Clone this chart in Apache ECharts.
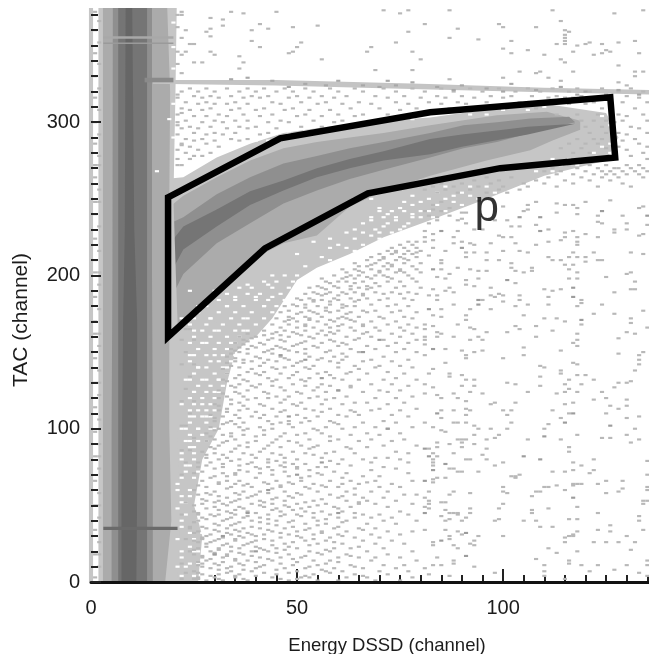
<!DOCTYPE html>
<html><head><meta charset="utf-8">
<style>html,body{margin:0;padding:0;background:#fff}#c{width:649px;height:654px;filter:blur(0.35px)}</style>
<script src="https://cdn.jsdelivr.net/npm/echarts@6/dist/echarts.min.js"></script>
</head><body><div id="c"></div>
<script>
const xTitle = "Energy DSSD (channel)";
const yTitle = "TAC (channel)";
const peakLabel = "p";
const xMax = 135.4, yMax = 374.5;
const xTickValues = [0,50,100];
const yTickValues = [0,100,200,300];

// gate outline [energy, tac]
const gate = [[18.7,251],[45.9,289.5],[82.3,306.5],[126,316.3],[127.2,277],[99.3,270],[67.2,253.6],[42.2,217.6],[18.7,160]];

// vertical band, rows of [tac, xLeft, xRight]
const bandStipple = [[0,1.8,21],[40,1.8,21.5],[100,1.8,21],[170,1.8,21],[200,1.8,20.6],[250,1.8,20],[320,1.8,20.5],[374.5,1.8,20.8]];
const bandLight = [[0,2.9,18],[40,2.9,19.5],[100,2.9,19],[170,2.9,19],[200,2.9,18],[250,2.9,19],[320,2.9,19.2],[374.5,2.9,18.5]];
const bandMid = [[0,5,15],[100,5,15],[200,5.2,14.8],[374.5,5.3,14.8]];
const bandDark = [[0,6.6,13.6],[374.5,6.6,13.6]];
const bandCore = [[0,7.4,11],[60,7.4,11.2],[170,7.8,11.2],[230,8.2,10.5],[374.5,8.4,10]];
const strip = [[0,-0.5,0.5],[374.5,-0.5,0.5]];

// proton locus contours [energy, tac]
const locusStipple = [[14,262],[22.4,264],[30.5,277],[38.6,286],[46.7,293],[54.8,296],[62.8,299],[71,301],[82.3,303],[98,309],[110,312],[125,306],[128,290],[125,275],[110,265],[96,250],[82.3,236],[71,225],[62.8,214],[54.8,205],[50,197],[44,172],[40,160],[30,150],[14,150]];
const locusLight = [[14,232],[19.2,245],[22.4,252],[30.5,264],[38.6,275],[46.7,283],[54.8,287],[62.8,290],[71,293],[82.3,298],[98.5,304.6],[110.6,306.8],[118.7,301],[118.7,295],[112,288],[106.6,281.7],[96,275],[82.3,265],[71,255],[62.8,245],[54.8,226],[46.7,221],[38.6,210],[30.5,192],[19.2,162],[14,150]];
const locusMid = [[14,220],[19.2,234],[22.4,238],[30.5,253],[38.6,264],[46.7,273],[54.8,278],[62.8,283],[71,287],[82.3,293],[90.4,298],[98.5,300],[106.6,302.4],[116,303.5],[117.5,300],[106.6,293],[98.5,287],[90.4,283],[82.3,277],[71,269],[62.8,263],[54.8,255.5],[46.7,247],[38.6,234],[30.5,221],[22.4,201],[19.2,184],[14,165]];
const locusCore = [[14,205],[19.2,221],[22.4,232],[30.5,243],[38.6,255],[46.7,262],[54.8,270],[62.8,276],[71,281],[82.3,289],[90,292],[100,295],[106,297],[117.5,299],[106,292],[100,289],[90,284],[82.3,279],[71,275],[62.8,270],[54.8,264],[46.7,255.5],[38.6,246],[30.5,232],[22.4,217],[19.2,201],[14,180]];
const fringeLow = [[20,0],[26,0],[27,30],[25,50],[27,80],[31,100],[33,130],[35,150],[40,162],[30,170],[20,170]];
const streak = [[15,327.5],[45,327.5],[80,325],[110,322.5],[135.4,321],[135.4,318],[110,319.5],[80,321.5],[45,324],[15,325]];
const streakDarkLow = [[3,36],[21,36],[21,34],[3,34]];
const streakPaleA = [[3,356],[20,356],[20,354.5],[3,354.5]];
const streakPaleB = [[3,352],[20,352],[20,351],[3,351]];
const streakDarkHigh = [[13,329],[20,329],[20,326],[13,326]];

// single-count cells, rows of [tac, energy, energy...]
const noiseLow = [
[78,29,39,43,47,68,77],[77,32,38,49,52,60],[75,26,32,40,43,47,50,55,57,71],[73,36,44,53,68],[71,25,32,35,41,55,62,77],[69,30,33,48,53,66,70],
[66,27,33,36,45,51,58,63,69,78],[64,31,35,38,43,49,54,61,65,73],[62,28,34,39,46,52,57,60,70,75],[59,30,37,41,47,55,62,68,72],[57,26,29,36,40,51,58,64,76,79],[55,33,38,45,49,60,66,71],
[53,28,31,35,41,47,54,62,67,74],[51,27,32,39,44,50,57,65,69,78],[49,30,36,42,48,53,59,63,72],[46,25,33,38,46,52,56,61,75],[44,29,31,35,43,47,50,58,66,70,77],[42,27,34,37,41,54,60,64,68,73],
[40,26,32,39,45,49,55,62,71,79],[38,30,35,43,52,57,67,74],[35,24,28,33,37,41,47,53,59,65,69],[33,26,31,36,44,50,56,62,72,78],[31,29,34,39,42,48,54,60,68,75],[29,27,32,37,46,51,58,64,70],
[27,25,30,35,40,44,52,57,66,73],[25,28,33,38,47,55,61,69,76],[22,26,31,36,41,45,50,59,63,71],[20,29,34,39,43,53,58,67,78],[18,25,30,33,37,48,56,62,72],[16,27,32,41,46,51,60,65,69,75],
[14,28,35,38,44,54,58,68,79],[11,26,31,37,42,49,55,63,71,76],[9,29,33,40,47,52,59,66,74],[7,25,34,39,50,57,61,70,77],[5,27,31,36,45,54,64,72],[3,26,30,35,44,51,53,62,67,78],[1,28,32,38,48,55,60,69,75]];
const noiseLowExtra = [
[79,34,45,58],[76,28,36,46,63],[74,30,41,50,74],[72,27,38,47,59],[70,35,44,56],[68,29,40,51,61],[65,31,42,48,67],[63,26,37,46,56],[61,33,44,53,64],[58,28,35,43,50],[56,31,39,48,61],[54,27,36,44,56],[52,30,34,42,52,65],[50,25,33,41,47,55],[48,28,37,45,51,60],[47,31,35,44,49],[45,26,34,40,54,64],[43,30,38,46,51],[41,28,33,43,57],[39,25,36,41,48,61],[37,31,34,45,55],[36,27,39,49,60],[34,30,35,43,52,66],[32,25,33,38,46,56],[30,28,36,40,50,61],[28,31,35,42,54],[26,26,29,39,49,59],[24,32,37,44,53],[23,28,34,40,48,65],[21,25,31,42,47,57],[19,30,36,45,55],[17,27,33,39,52,63],[15,29,35,43,49],[13,26,32,40,50,60],[12,30,36,46,57],[10,27,34,41,53,64],[8,31,37,45,56],[6,26,33,42,48,58],[4,29,35,40,52,66],[2,25,31,37,46,50]];
const noiseMid = [
[164,42,47,52,56,60,64,70,76],[162,38,44,50,55,59,66,73,78],[160,36,40,48,53,62,68,75],[158,37,43,46,58,64,71,79],[156,35,41,51,56,61,74,77],[154,39,45,49,54,60,67,72],[152,34,38,44,47,52,63,69,76],[150,36,42,50,57,65,74,79],
[147,33,40,46,53,59,62,71],[145,37,43,48,55,61,68,77],[144,35,39,45,51,58,66,73],[141,34,41,49,54,64,70,75],[140,36,44,47,52,60,69,78],[137,38,42,50,57,63,72],[136,33,40,46,55,62,67,76],[133,35,43,48,53,59,74],
[132,32,37,45,51,61,65,71,79],[129,36,41,49,56,68,73],[128,34,39,44,52,58,63,77],[125,31,38,47,54,60,70,75],[124,35,42,50,57,66,72],[121,33,37,45,48,55,62,78],[120,31,40,43,53,59,69,74],[117,36,46,51,64,67,76],
[116,30,34,41,49,56,61,72],[113,33,38,44,52,58,70,79],[112,31,36,47,54,63,68,75],[109,29,35,42,50,60,65,73],[108,32,39,45,55,62,77],[105,30,34,43,48,53,58,71],[104,33,37,46,51,59,66,74],[101,29,36,41,49,57,64,69,78],
[100,31,38,44,54,61,72],[97,28,34,47,52,56,67,75],[96,32,37,42,50,63,70],[93,30,35,45,53,60,68,76],[92,28,33,40,48,58,65,73],[89,31,36,43,51,55,71,79],[88,29,38,46,54,62,67],[85,27,34,41,49,59,74],[84,30,37,44,52,57,64,77],[81,28,33,40,47,56,69,72],[80,31,36,43,50,61,66,75]];
const noiseMidExtra = [
[163,45,49,58,67],[161,42,46,51,57],[159,39,44,54,65],[157,38,47,52,59],[155,37,42,50,62],[153,36,40,46,55],[151,35,43,48,58],[149,34,38,44,52,61],[146,35,41,47,56],[143,33,37,42,50,60],[139,32,39,45,53,65],[135,36,41,49,58],[131,33,38,44,52],[127,35,40,46,55,63],[123,32,36,43,51],[119,34,38,47,57],[115,31,37,42,50],[111,33,40,46,56,64],[107,30,36,41,52],[103,32,35,44,48,60],[99,30,37,42,55],[95,29,34,40,46,58],[91,32,38,44,50],[87,30,35,42,53,63],[83,28,32,39,46,54]];
const noiseBelowLocus = [
[166,46,50,54,58,63,69,75,79],[167,52,60,66],[168,44,48,52,57,61,66,72,77],[170,47,50,55,59,64,68,74],[171,48,53,58,63],[172,45,49,53,60,62,71,78],[173,48,52,56,61,65,70,76],[175,50,55,62],[176,46,51,54,58,63,67,73,79],[177,48,53,57,60,66,69,75],[179,52,57,61],[180,47,50,55,62,64,72,77],[181,49,52,58,61,68,74],[183,54,58,64],[184,51,54,56,60,65,70,78],[185,50,53,59,63,67,72,76],[187,56,60,66],[188,52,55,57,62,66,71,75,79],[189,54,58,61,64,69,73,77],[191,57,63,67],[192,53,56,60,65,68,74,80],[193,55,59,63,67,70,76],[195,58,64,69],[196,57,60,62,66,72,75,79],[198,56,61,64,68,73,78],[199,62,67,72],[200,59,63,65,69,71,77],[202,62,66,70,74,76,80],[203,65,70,75],[204,61,64,68,72,75,79],[206,65,67,71,73,78],[207,68,73],[208,64,69,72,76,80],[210,67,70,74,77],[211,71,76],[212,68,71,75,79],[214,70,73,76,78],[215,74,79],[216,72,74,77,80],[218,73,76,79],[220,75,78],[222,77,79]];
const noiseRightLow = [
[124,92,106,115,118,124],[123,81,88,95,113],[122,84],[120,85,89,125],[119,122,130],[118,91],[117,98,103,117],[116,97,115],[115,126,130],[113,91,128],[112,85,88,92,100,102,112],[110,125,116],[109,91,101],[108,133],[107,85,114,130],[104,81,88,89,91,102],[103,111],[102,93],[101,83],[100,94,97,101,110,132],[99,85],[98,86],[96,93,99,118,130],[94,98,124,126],[93,89,90,91,96,106,114,133],[91,84,90,131],[90,87,93],[88,84,90,116],[87,82,96],[85,116],[84,83,88],[83,95],[82,84],[80,83,91,92,96,122],[79,135],[78,83,100,117],[76,83,98,119],[74,87,88],[73,117,122],[72,89,90,94,112,115],[71,121],[70,104,135],[69,102,103],[68,84,86,103],[67,83],[66,125,129],[65,83],[64,117,118,119,123],[63,113,117],[62,100,110,111,135],[61,129],[60,115,135],[59,82,88,100,108,109,128],[58,92,101,125],[57,87],[56,107],[55,81],[53,82,134,135],[52,85,86],[51,100,82,134],[49,118,81],[48,82,92,99,111],[47,86,107],[45,87,88,89,92,107,123],[44,89],[43,85,133],[42,91],[41,87,116,118,99],[40,86,90,98,105,108,133],[37,126],[36,109,112],[34,81,86,123,134],[33,89,118,126],[31,90,117],[30,94,100,87,116,117,130],[29,115],[28,87],[27,93],[26,83,115,122,125,128,132],[25,92],[24,83,93,88],[22,89,111],[21,131],[20,118],[19,113],[16,84],[15,108],[14,88,116,135],[12,88,116],[11,83,85,110,119,123,130,135],[10,93],[9,81],[8,127],[7,110,121],[6,98,133],[5,82],[4,87,110,135],[2,115]];
const noiseRightMid = [
[249,126],[248,85,108,120],[247,113],[246,83,106,115,117],[245,100,134],[244,87,118,133],[243,83,106],[242,81,85,105],[241,90,91,113],[240,118],[239,82,87,123,129],[238,84],[237,90],[236,84,89,98,101],[235,123],[234,82,91,124,130],[233,108,135],[232,102,104],[230,93,95,111,127,130],[229,81,89,117],[228,115,127],[227,83,120,134],[226,99,133],[225,81,88,100,102,115,118,123],[223,83,114],[222,81,90,111,118],[221,88,92,97,103],[220,93,108,118],[218,83],[216,86,100,104],[215,91,93,96,106,117,122,131],[214,134],[213,82],[212,91,111,116,118,120],[210,85,96,99,112,114,123,124],[209,120],[208,85,102],[207,115,117],[205,89,102,107],[204,85,92,116],[203,94,96,103,107],[202,105,118,131],[201,87,130],[199,84,125],[198,86,94,116,118],[197,91],[196,132],[195,103],[194,91],[193,93],[192,87,97],[191,83,110,114,131,132],[190,86,112],[189,88,127],[188,99],[187,82,84,97,100,104],[186,98,111],[184,84,95,104,119],[183,100],[182,119],[181,88,106,111,124],[180,103,118],[178,85,92,97],[177,134],[175,122,127],[174,83,91,105],[173,85],[172,110,113,131],[171,91],[170,115],[169,131],[168,81,89,119],[167,83,103,108],[166,92,135],[165,81,93,104],[164,112],[163,84,96,101,130],[162,85,118,132],[160,81,84,88,94,108],[159,128],[158,81,92,95,118],[156,117],[155,81],[154,118],[153,105],[152,86],[151,90,95,114],[150,93,134],[149,128],[148,81,91,105,133],[146,91,100],[145,133],[143,86,117],[142,118,133],[141,109],[140,110],[139,83],[138,114,132],[136,82,87,114],[135,90,118,120],[134,87,109],[132,91,93,116,122],[131,131],[130,101,128,130],[129,81,103,115,119],[128,90,93,109],[127,83,127],[126,116]];
const noiseAbove = [
[373,71,77,87,112,134],[372,45,22,34],[371,37,75,127],[368,29],[367,32],[366,114],[364,41,81,99],[363,32,55],[362,49,100,108],[361,29,43,89],[360,23,39,115],[359,28,77,116],[357,115],[356,29],[355,87,115],[354,94],[353,39,102,115,132],[352,51,74,121,128],[351,24,25,113,115,120,124],[350,118],[349,41,50,68],[348,100],[347,106,125],[346,29,49,67,78,117,126],[345,48,102,124,133],[344,22,30,110,122],[343,36],[341,56,80,114],[339,25,27,37,115],[337,128],[335,36],[334,69,78],[333,104,109,117,132,134],[332,108],[330,132],[329,100,111],[328,87],[327,114],[326,128],[324,130]];
const noiseAboveLocus = [
[322,24,28,33,38,42,47,52,58,64,71,78,85,92,99,106,112,118,124,131],[320,22,26,30,36,40,45,49,54,60,66,74,81,88,95,103,109,116,121,128,134],[317,25,29,34,39,43,50,56,62,69,76,84,90,97,102,107,113,119,130],[316,21,27,31,37,41,48,53,59,72,80,86,93,100,111,115,117,125,133],[313,23,28,35,44,51,57,65,74,82,89,96,104,122,129,135],[312,26,30,33,38,46,55,61,68,77,85,91,112,116,120],[309,22,29,36,42,49,63,70,79,87,94,101,108,124,132],[308,24,27,34,40,47,53,58,75],[305,21,31,37,44,52,60,66,72,113,118,123,128,134],[304,25,28,33,41,50,56,64,130],[301,23,30,35,38,46,54,61,119,122,125,129,135],[300,21,27,32,43,48,59,66,127],[297,24,29,36,40,51,56,120,124,131],[296,22,26,33,38,45,133],[293,25,30,35,43,121,125,128,135],[292,21,28,32,41,130],[289,23,27,34,38,118,122,124,132],[288,25,30,36,129],[286,22,28,116,120,123,133],[284,24,31,128,135],[283,114,119,125],[282,21,26,130],[280,23,29,117,121,134],[278,25,27,131],[276,21,24,135]];
const noiseRightStreak = [
[272,109,116,121,125,130,133],[270,112,118,123,127,128,131,134],[268,110,114,120,124,126,129,132,135],[266,113,117,122,125,127,130,133],[264,84,90,96,102,111,119,124,128,134],[262,82,87,93,99,108,115,121,126],[260,85,90,97,105,110,117,129],[258,83,88,94,100,106,113,123,131],[256,81,86,92,99,104],[254,84,89,96,101]];
const noiseLeft = [
[372,1],[366,2],[360,1],[352,2],[345,1],[338,2],[330,1],[322,2],[316,1],[308,2],[300,1],[292,2],[286,1],[278,2],[272,1,2],[264,1],[256,2],[248,1,2],[240,1],[232,2],[224,1],[216,2],[210,1],[202,1,2],[194,2],[186,1],[178,2],[170,1],[162,1,2],[154,2],[146,1],[138,2],[130,1,2],[122,2],[114,1],[106,2],[98,1],[90,2],[82,1,2],[74,2],[66,1],[58,2],[50,1,2],[42,2],[34,1],[26,2],[18,1,2],[10,2],[3,1]];
const noiseBandEdge = [
[370,21,22],[362,21],[355,22],[346,21,23],[338,21],[332,22],[318,21],[306,22],[298,21],[285,22],[272,21,22],[165,23,24],[158,22,25],[150,23],[142,22,25],[134,24],[126,23],[118,22,25],[110,24],[102,22,23],[94,25],[86,22,24],[78,23,26],[70,22],[60,25],[52,23],[44,22,26],[36,24],[28,23,27],[20,24],[12,22,27],[6,23],[2,22,26]];
const noiseDoubles = [[84,110],[117,110],[115,104],[126,102],[110,95],[81,87],[82,82],[105,82],[109,80],[86,77],[91,32],[85,27],[91,17],[83,73],[81,66],[117,55],[81,45],[124,242],[135,239],[104,238],[109,238],[85,229],[109,229],[90,218],[83,204],[101,197],[117,192],[94,184],[117,186],[94,181],[82,178],[119,171],[83,152],[56,78],[48,108],[56,133],[52,145],[46,148],[60,45],[40,20],[32,30],[66,150],[70,158],[60,125],[72,100],[43,60],[38,45],[30,18],[50,70]];
const streakCells = [[70,323],[72,327],[34,328],[38,329],[44,327],[52,325],[60,327],[66,324],[78,326],[84,323],[90,324],[96,322],[102,325],[108,321],[114,323],[120,320],[128,321],[133,318],[48,323],[57,324],[74,324],[88,321],[100,320],[118,318],[125,318]];

// white gaps inside the dense shaded zones, rows of [tac, energy...]
const gapsBand = [
[4,22,25],[10,21,23],[16,22],[23,24],[28,21,25],[36,22],[44,23],[48,21],[56,22,24],[64,21],[72,23,26],[84,22,25],[92,24,28],[100,22,26,30],[108,24,28],[116,22,27],[124,25,30],[132,23,28,31],[140,26,33],[148,24,30],[156,28,34],[164,25,31,37],[172,22,29,38],[180,26,33,42],[186,35,40,44],[190,24,30],[194,38,43],
[365,20],[349,20],[335,20],[312,20],[302,19],[290,20]];
const gapsLower = [
[200,44,47,50],[196,42,45,49],[192,36,39,44,48],[188,33,38,41,46],[184,31,35,40,43,47],[180,28,33,37,42,45],[176,26,31,35,39,44],[172,25,29,34,37,42],[168,24,28,32,36,40],[164,27,30,35,38],[160,25,29,33,36],[156,24,27,31,35],[152,26,30,33],[148,25,28,32,35],[144,24,29,31,34],[140,26,28,32],[136,25,30,33],[132,24,27,31],[128,26,29,32],[124,25,28,31],[120,24,27,30],[116,25,29],[112,24,26,28,30],[108,25,27,29],[104,24,28],[100,23,26,29],[96,24,27],[92,23,26],[88,24,25],[80,22,25],[76,23,24],[68,22,25],[60,21,24],[52,22,23],[40,22,26],[32,24,27],[20,22,25,26],[12,24,26]];
const gapsLocus = [
[258,86,92,96],[254,84,90,98],[252,78,88,92],[250,64,68,82,86,94],[248,76,80,88],[246,78,84,90],[244,70,75],[242,70,73,76,80,82,86],[240,72,78],[238,68,71,74,78,80,83],[236,68,74],[234,66,72,77],[232,71,76],[230,64,69,75],[228,62,66,70,73],[226,68],[224,58,64,70],[220,60,66],[218,58,62],[216,64],[212,56],[210,58],[206,52],[214,50],[222,54],
[268,16,108,112],[272,22,26,114,118,122],[276,24,28,112,116,120,124],[280,26,31,122,126],[284,30,34,124],[286,126,128],[288,36,40,43],[292,44,48,127,128],[294,48,52,56],[298,58,62,66,126],[300,64,68],[302,72,78],[304,124],[305,84,92,96],[308,100,106],[310,104,110]];

const levels = {stipple:"#c6c6c6",light:"#ababab",mid:"#8f8f8f",dark:"#757575",core:"#666666",streak:"#c4c4c4"};

const rowsToPoints = rows => rows.flatMap(r => r.slice(1).map(x => [x, r[0]]));
const bandToPoly = b => b.map(r => [r[2], r[0]]).concat(b.slice().reverse().map(r => [r[1], r[0]]));

const polyLayers = [
  [locusStipple, levels.stipple],[fringeLow, levels.stipple],[locusLight, levels.light],[locusMid, levels.mid],[locusCore, levels.dark],
  [bandToPoly(strip), levels.stipple],[bandToPoly(bandStipple), levels.stipple],[bandToPoly(bandLight), levels.light],[bandToPoly(bandMid), levels.mid],[bandToPoly(bandDark), levels.dark],[bandToPoly(bandCore), levels.core],
  [streak, levels.streak],[streakDarkLow, "#6a6a6a"],[streakPaleA, "#a8a8a8"],[streakPaleB, "#9a9a9a"],[streakDarkHigh, "#8a8a8a"]
];
const singles = [noiseLow,noiseLowExtra,noiseMid,noiseMidExtra,noiseBelowLocus,noiseRightLow,noiseRightMid,noiseAbove,noiseAboveLocus,noiseRightStreak,noiseLeft,noiseBandEdge].flatMap(rowsToPoints);
const whites = [gapsBand,gapsLower,gapsLocus].flatMap(rowsToPoints);

const cellItem = (fill) => (params, api) => {
  const x = api.value(0), y = api.value(1);
  const a = api.coord([x - 0.5, y + 0.7]), b = api.coord([x + 0.5, y - 0.7]);
  return {type:"rect", shape:{x:a[0], y:a[1], width:b[0]-a[0], height:b[1]-a[1]}, style:{fill}};
};
const cellSeries = (data, fill) => ({type:"custom", coordinateSystem:"cartesian2d", data, encode:{x:0,y:1}, renderItem:cellItem(fill), silent:true, animation:false, progressive:0, z:2});

const chart = echarts.init(document.getElementById("c"), null, {renderer:"canvas"});
const font = {fontFamily:"Liberation Sans", fontSize:20, color:"#1c1c1c"};
chart.setOption({
  animation:false,
  backgroundColor:"#fff",
  grid:{left:91, right:0, top:8, bottom:72, containLabel:false, outerBoundsMode:"none"},
  xAxis:[
    {type:"value", min:0, max:xMax, interval:50, z:1, position:"bottom", splitLine:{show:false},
     name:xTitle, nameLocation:"middle", nameGap:54, nameTextStyle:{...font, fontSize:18.5, padding:[0,0,0,34]},
     axisLine:{show:false}, axisTick:{inside:true, length:13, customValues:xTickValues, lineStyle:{color:"#222", width:2}},
     minorTick:{show:true, splitNumber:10, length:7, lineStyle:{color:"#222", width:2}},
     axisLabel:{...font, margin:16, showMaxLabel:false}},
    {type:"value", min:0, max:xMax, interval:50, z:6, position:"bottom", splitLine:{show:false},
     axisLine:{show:true, onZero:false, lineStyle:{color:"#111", width:3}}, axisTick:{show:false}, axisLabel:{show:false}}
  ],
  yAxis:{type:"value", min:0, max:yMax, interval:100, z:6, splitLine:{show:false},
     name:yTitle, nameLocation:"middle", nameGap:59, nameRotate:90, nameTextStyle:{...font, fontSize:21, padding:[0,50,0,0]},
     axisLine:{show:false}, axisTick:{inside:true, length:10, customValues:yTickValues, lineStyle:{color:"#222", width:2}},
     minorTick:{show:true, splitNumber:10, length:7, lineStyle:{color:"#222", width:2}},
     axisLabel:{...font, margin:11, showMaxLabel:false}},
  series:[
    {type:"custom", coordinateSystem:"cartesian2d", data:polyLayers.map((_,i)=>[i,0]), encode:{x:0,y:1}, silent:true, animation:false, progressive:0, z:2,
     renderItem:(params, api) => {
       const layer = polyLayers[params.dataIndex];
       return {type:"polygon", shape:{points:layer[0].map(p => api.coord(p))}, style:{fill:layer[1]}};
     }},
    cellSeries(whites, "#ffffff"),
    cellSeries(singles, "#b8b8b8"),
    cellSeries(streakCells, "#a8a8a8"),
    cellSeries(noiseDoubles, "#9c9c9c"),
    {type:"custom", coordinateSystem:"cartesian2d", data:[[0,0]], encode:{x:0,y:1}, silent:true, animation:false, z:3,
     renderItem:(params, api) => ({type:"polygon", shape:{points:gate.map(p => api.coord(p))}, style:{fill:"none", stroke:"#000", lineWidth:6.5, lineJoin:"miter"}})},
    {type:"scatter", symbolSize:0, data:[[96,243.5]], silent:true, z:4,
     label:{show:true, position:"inside", formatter:peakLabel, fontFamily:"Liberation Sans", fontSize:44, color:"#000"}}
  ]
});
</script></body></html>
